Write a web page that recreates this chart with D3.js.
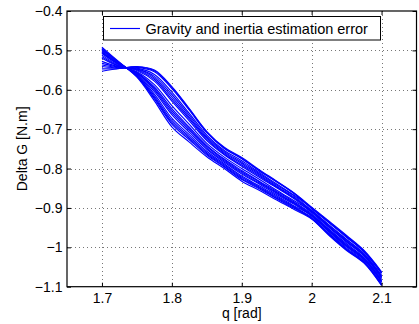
<!DOCTYPE html>
<html>
<head>
<meta charset="utf-8">
<script src="https://cdn.jsdelivr.net/npm/d3@7"></script>
<style>
  body { margin: 0; background: #fff; }
  svg { display: block; font-family: "Liberation Sans", Arial, Helvetica, sans-serif; }
</style>
</head>
<body>
<div id="chart"></div>
<script>
// joint angle samples (rad)
const qValues = [1.70, 1.725, 1.75, 1.775, 1.80, 1.825, 1.85, 1.875, 1.90, 1.925, 1.95, 1.975, 2.00, 2.025, 2.05, 2.075, 2.10];

// one array per estimation run, Delta G [N.m]
const run01 = [-0.553, -0.546, -0.541, -0.550, -0.592, -0.648, -0.706, -0.746, -0.772, -0.803, -0.832, -0.862, -0.898, -0.934, -0.970, -1.008, -1.062];
const run02 = [-0.541, -0.545, -0.543, -0.554, -0.597, -0.652, -0.709, -0.749, -0.775, -0.806, -0.834, -0.864, -0.902, -0.938, -0.975, -1.012, -1.066];
const run03 = [-0.537, -0.544, -0.545, -0.561, -0.606, -0.660, -0.715, -0.754, -0.780, -0.810, -0.839, -0.868, -0.900, -0.937, -0.973, -1.011, -1.065];
const run04 = [-0.528, -0.542, -0.547, -0.566, -0.612, -0.665, -0.719, -0.757, -0.784, -0.813, -0.842, -0.870, -0.906, -0.943, -0.980, -1.016, -1.071];
const run05 = [-0.520, -0.541, -0.549, -0.574, -0.624, -0.674, -0.726, -0.763, -0.791, -0.819, -0.847, -0.875, -0.907, -0.945, -0.981, -1.018, -1.073];
const run06 = [-0.516, -0.540, -0.551, -0.578, -0.629, -0.679, -0.729, -0.765, -0.794, -0.822, -0.849, -0.877, -0.912, -0.950, -0.987, -1.022, -1.078];
const run07 = [-0.512, -0.539, -0.554, -0.587, -0.640, -0.688, -0.736, -0.771, -0.800, -0.827, -0.855, -0.882, -0.909, -0.948, -0.984, -1.020, -1.075];
const run08 = [-0.508, -0.537, -0.556, -0.593, -0.648, -0.695, -0.741, -0.776, -0.805, -0.832, -0.858, -0.885, -0.915, -0.954, -0.991, -1.026, -1.081];
const run09 = [-0.505, -0.536, -0.558, -0.597, -0.653, -0.699, -0.744, -0.778, -0.808, -0.834, -0.861, -0.887, -0.917, -0.956, -0.994, -1.028, -1.084];
const run10 = [-0.503, -0.535, -0.560, -0.605, -0.663, -0.708, -0.751, -0.784, -0.814, -0.839, -0.866, -0.891, -0.921, -0.961, -0.999, -1.032, -1.088];
const run11 = [-0.500, -0.534, -0.562, -0.611, -0.672, -0.714, -0.756, -0.788, -0.819, -0.844, -0.869, -0.895, -0.919, -0.959, -0.997, -1.030, -1.087];
const run12 = [-0.498, -0.532, -0.564, -0.616, -0.678, -0.719, -0.760, -0.791, -0.822, -0.847, -0.872, -0.897, -0.924, -0.965, -1.002, -1.035, -1.092];
const run13 = [-0.495, -0.531, -0.566, -0.623, -0.687, -0.727, -0.766, -0.796, -0.828, -0.851, -0.877, -0.901, -0.926, -0.967, -1.005, -1.037, -1.094];
const run14 = [-0.492, -0.530, -0.568, -0.628, -0.694, -0.733, -0.770, -0.800, -0.832, -0.855, -0.880, -0.904, -0.928, -0.970, -1.008, -1.040, -1.097];
const run15 = [-0.533, -0.543, -0.548, -0.570, -0.618, -0.670, -0.722, -0.760, -0.787, -0.816, -0.845, -0.873, -0.910, -0.947, -0.985, -1.021, -1.076];
const run16 = [-0.506, -0.536, -0.557, -0.600, -0.658, -0.703, -0.748, -0.781, -0.811, -0.837, -0.863, -0.889, -0.919, -0.958, -0.996, -1.030, -1.086];
const run17 = [-0.497, -0.532, -0.565, -0.620, -0.683, -0.723, -0.763, -0.794, -0.825, -0.849, -0.875, -0.899, -0.927, -0.968, -1.006, -1.039, -1.096];
const run18 = [-0.547, -0.546, -0.542, -0.552, -0.594, -0.650, -0.707, -0.748, -0.774, -0.805, -0.833, -0.863, -0.900, -0.936, -0.972, -1.010, -1.064];
const runs = [run01, run02, run03, run04, run05, run06, run07, run08, run09,
  run10, run11, run12, run13, run14, run15, run16, run17, run18];

// axis ticks
const xTicks = [1.7, 1.8, 1.9, 2.0, 2.1];
const yTicks = [-1.1, -1.0, -0.9, -0.8, -0.7, -0.6, -0.5, -0.4];
const legendLabel = "Gravity and inertia estimation error";

const width = 419, height = 324;
const plotL = 67, plotR = 416.5, plotT = 11, plotB = 286.7;

const svg = d3.select("#chart").append("svg")
  .attr("width", width)
  .attr("height", height);

svg.append("rect").attr("width", width).attr("height", height).attr("fill", "#fff");

const x = d3.scaleLinear().domain([1.65, 2.15]).range([plotL, plotR]);
const y = d3.scaleLinear().domain([-1.1, -0.4]).range([plotB, plotT]);

const fmt = d => (d < 0 ? "\u2212" : "") + d3.format("")(Math.abs(+d.toFixed(1)));

// dotted grid
const grid = svg.append("g").attr("stroke", "#777").attr("stroke-width", 1).attr("stroke-dasharray", "1,3");
grid.selectAll(".gx").data(xTicks).enter().append("line")
  .attr("x1", d => Math.round(x(d)) + 0.5).attr("x2", d => Math.round(x(d)) + 0.5)
  .attr("y1", plotT).attr("y2", plotB);
grid.selectAll(".gy").data(yTicks.slice(1, -1)).enter().append("line")
  .attr("y1", d => Math.round(y(d)) + 0.5).attr("y2", d => Math.round(y(d)) + 0.5)
  .attr("x1", plotL).attr("x2", plotR);

// curves
svg.append("clipPath").attr("id", "clip").append("rect")
  .attr("x", plotL).attr("y", plotT).attr("width", plotR - plotL).attr("height", plotB - plotT);

const line = d3.line()
  .x((d, i) => x(qValues[i]))
  .y(d => y(d))
  .curve(d3.curveCatmullRom.alpha(0.5));

svg.append("g").attr("clip-path", "url(#clip)")
  .selectAll("path").data(runs).enter().append("path")
  .attr("d", line)
  .attr("fill", "none")
  .attr("stroke", "#0000ff")
  .attr("stroke-width", 1.15);

// axes, ticks pointing inward
const tick = 4;
svg.append("g").attr("transform", `translate(0,${plotB})`)
  .call(d3.axisBottom(x).tickValues(xTicks).tickSizeInner(-tick).tickSizeOuter(0).tickPadding(6).tickFormat(fmt));
svg.append("g").attr("transform", `translate(${plotL},0)`)
  .call(d3.axisLeft(y).tickValues(yTicks).tickSizeInner(-tick).tickSizeOuter(0).tickPadding(4.5).tickFormat(fmt));
svg.append("g").attr("transform", `translate(0,${plotT})`)
  .call(d3.axisTop(x).tickValues(xTicks).tickSizeInner(-tick).tickSizeOuter(0).tickFormat(""));
svg.append("g").attr("transform", `translate(${plotR},0)`)
  .call(d3.axisRight(y).tickValues(yTicks).tickSizeInner(-tick).tickSizeOuter(0).tickFormat(""));

svg.selectAll(".domain").remove();
svg.selectAll(".tick text").attr("font-size", 14).attr("font-family", "Liberation Sans, Arial, sans-serif").attr("fill", "#000");
svg.selectAll(".tick line").attr("stroke", "#000");

svg.append("rect")
  .attr("x", plotL).attr("y", plotT).attr("width", plotR - plotL).attr("height", plotB - plotT)
  .attr("fill", "none").attr("stroke", "#000").attr("stroke-width", 1.2);

// axis labels
svg.append("text")
  .attr("x", x(1.9)).attr("y", 318)
  .attr("text-anchor", "middle").attr("font-size", 14)
  .text("q [rad]");
svg.append("text")
  .attr("transform", `translate(27,${(plotT + plotB) / 2}) rotate(-90)`)
  .attr("text-anchor", "middle").attr("font-size", 14)
  .text("Delta G [N.m]");

// legend
const lg = svg.append("g");
lg.append("rect")
  .attr("x", 103.5).attr("y", 16.5).attr("width", 277).attr("height", 23.5)
  .attr("fill", "#fff").attr("stroke", "#000").attr("stroke-width", 1);
lg.append("line")
  .attr("x1", 110).attr("x2", 140).attr("y1", 28.5).attr("y2", 28.5)
  .attr("stroke", "#0000ff").attr("stroke-width", 1.15);
lg.append("text")
  .attr("x", 145.5).attr("y", 34).attr("font-size", 14.5)
  .text(legendLabel);
</script>
</body>
</html>
